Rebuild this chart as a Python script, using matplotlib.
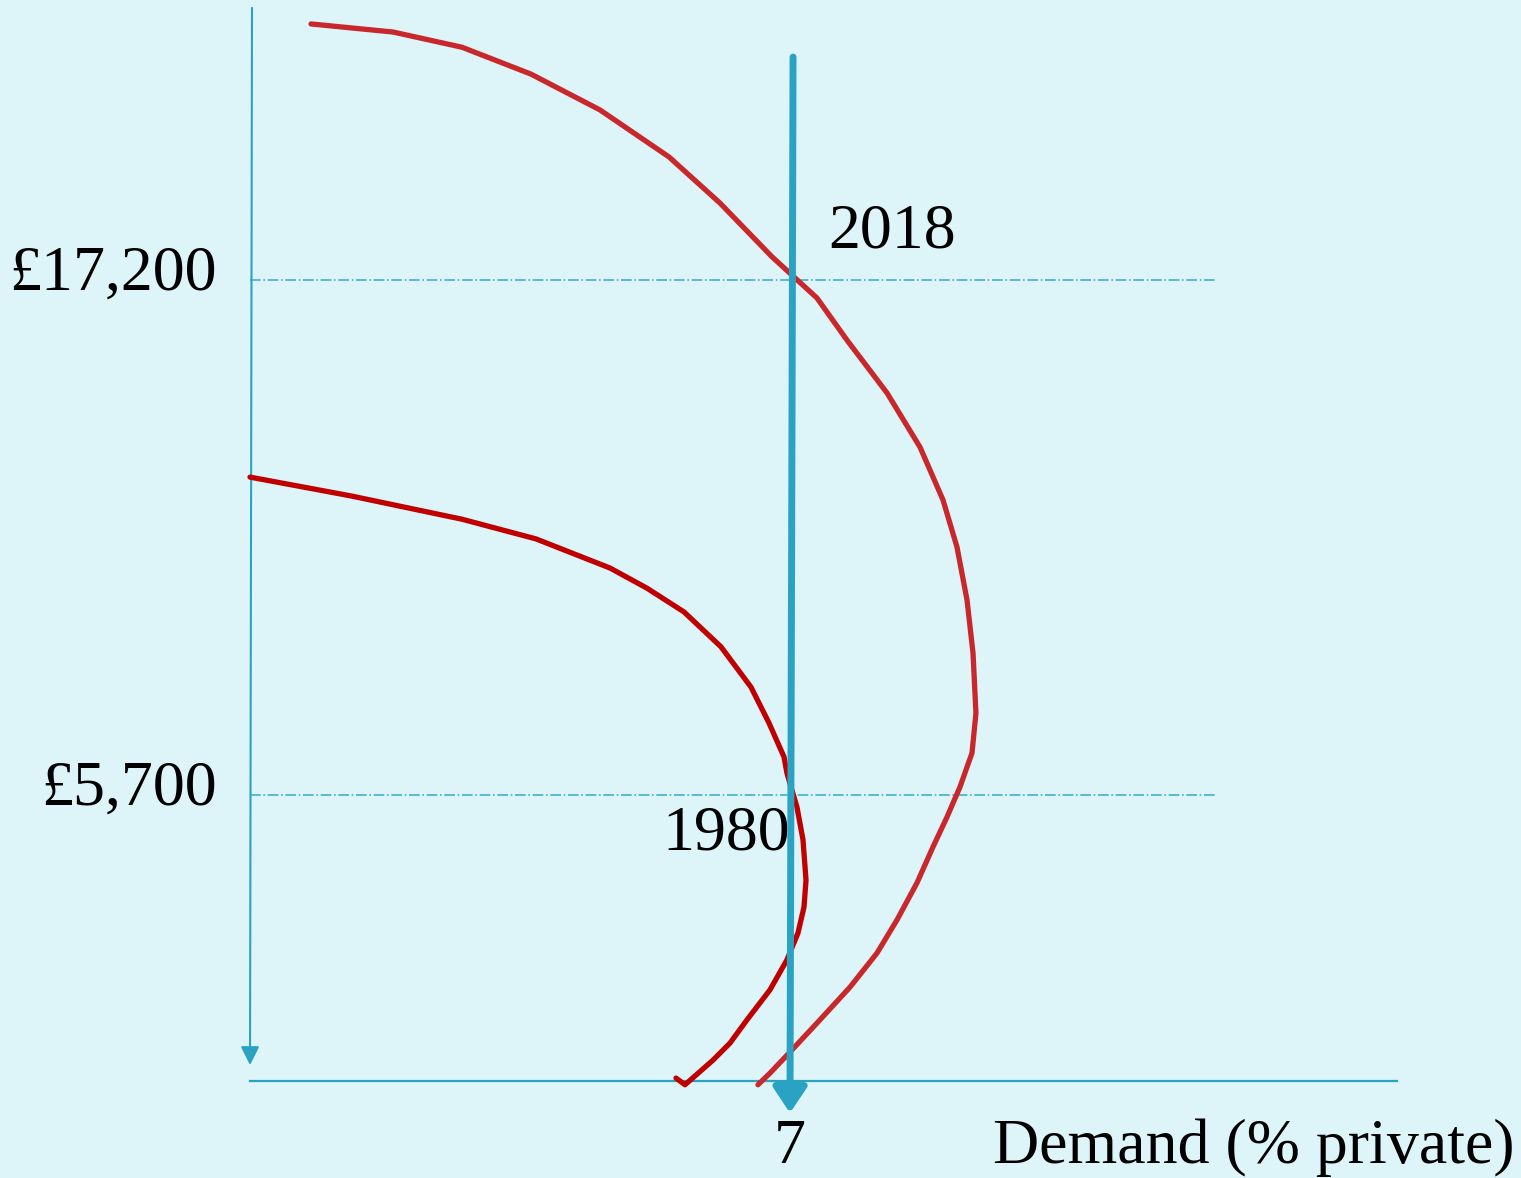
import matplotlib.pyplot as plt

# demand (% private) and income (£ thousands)
demand_1980 = [0.00, 1.309, 2.748, 3.708, 4.667, 5.146, 5.626, 6.106, 6.495, 6.728,
               6.923, 6.961, 7.091, 7.169, 7.208, 7.182, 7.104, 6.961, 6.741, 6.443,
               6.222, 6.002, 5.639, 5.522]
income_1980 = [12.80, 12.38, 11.86, 11.42, 10.77, 10.32, 9.79, 9.01, 8.11, 7.31,
               6.55, 6.19, 5.43, 4.70, 3.80, 3.20, 2.62, 2.02, 1.35, 0.68,
               0.16, -0.22, -0.77, -0.62]

demand_2018 = [0.791, 1.854, 2.748, 3.643, 4.537, 5.432, 6.093, 6.767, 7.350, 7.739,
               8.258, 8.686, 8.984, 9.165, 9.295, 9.373, 9.411, 9.360, 9.204, 9.036,
               8.854, 8.647, 8.387, 8.128, 7.778, 7.389, 7.000, 6.741, 6.585]
income_2018 = [22.92, 22.74, 22.40, 21.80, 21.00, 19.95, 18.92, 17.72, 16.80, 15.86,
               14.68, 13.47, 12.29, 11.24, 10.06, 8.87, 7.53, 6.64, 5.88, 5.21,
               4.54, 3.74, 2.91, 2.17, 1.41, 0.68, -0.04, -0.51, -0.77]

income_levels = [17.2, 5.7]
income_labels = ['£17,200', '£5,700']
demand_mark = 7
year_labels = ['1980', '2018']

bg = '#ddf4f9'
teal = '#2aa3c2'

fig = plt.figure(figsize=(15.21, 11.78), dpi=100, facecolor=bg)
ax = fig.add_axes([0, 0, 1, 1])
ax.set_facecolor(bg)
ax.set_xlim(-3.241, 16.477)
ax.set_ylim(-2.852, 23.455)
ax.axis('off')

plt.rcParams['font.family'] = ['Liberation Serif', 'DejaVu Serif']

# axes of the sketch
ax.annotate('', xy=(0, -0.33), xytext=(0.026, 23.28),
            arrowprops=dict(arrowstyle='-|>', color=teal, lw=1.5, mutation_scale=28,
                            shrinkA=0, shrinkB=0))
ax.plot([0, 14.87], [-0.686, -0.686], color=teal, lw=1.6)

# reference lines
for lvl, lab in zip(income_levels, income_labels):
    ax.plot([0, 12.51], [lvl, lvl], color=teal, lw=1.2, ls='-.', alpha=0.85)
    ax.text(-0.43, lvl + 0.12, lab, ha='right', va='center', fontsize=46)

# demand curves
ax.plot(demand_1980, income_1980, color='#c00000', lw=3.8, solid_capstyle='round',
        solid_joinstyle='round', zorder=3)
ax.plot(demand_2018, income_2018, color='#c8282b', lw=3.8, solid_capstyle='round',
        solid_joinstyle='round', zorder=3)

# vertical line at 7%
ax.annotate('', xy=(demand_mark, -1.40), xytext=(demand_mark + 0.04, 22.18),
            arrowprops=dict(arrowstyle='-|>,head_length=0.45,head_width=0.3',
                            color=teal, lw=5, mutation_scale=34,
                            shrinkA=0, shrinkB=0), zorder=4)

ax.text(demand_mark, -2.18, str(demand_mark), ha='center', va='center', fontsize=46)
ax.text(9.63, -2.18, 'Demand (% private)', ha='left', va='center', fontsize=46)
ax.text(7.0, 4.81, year_labels[0], ha='right', va='center', fontsize=46)
ax.text(7.49, 18.27, year_labels[1], ha='left', va='center', fontsize=46)

fig.savefig('out.png', dpi=100, facecolor=bg)
